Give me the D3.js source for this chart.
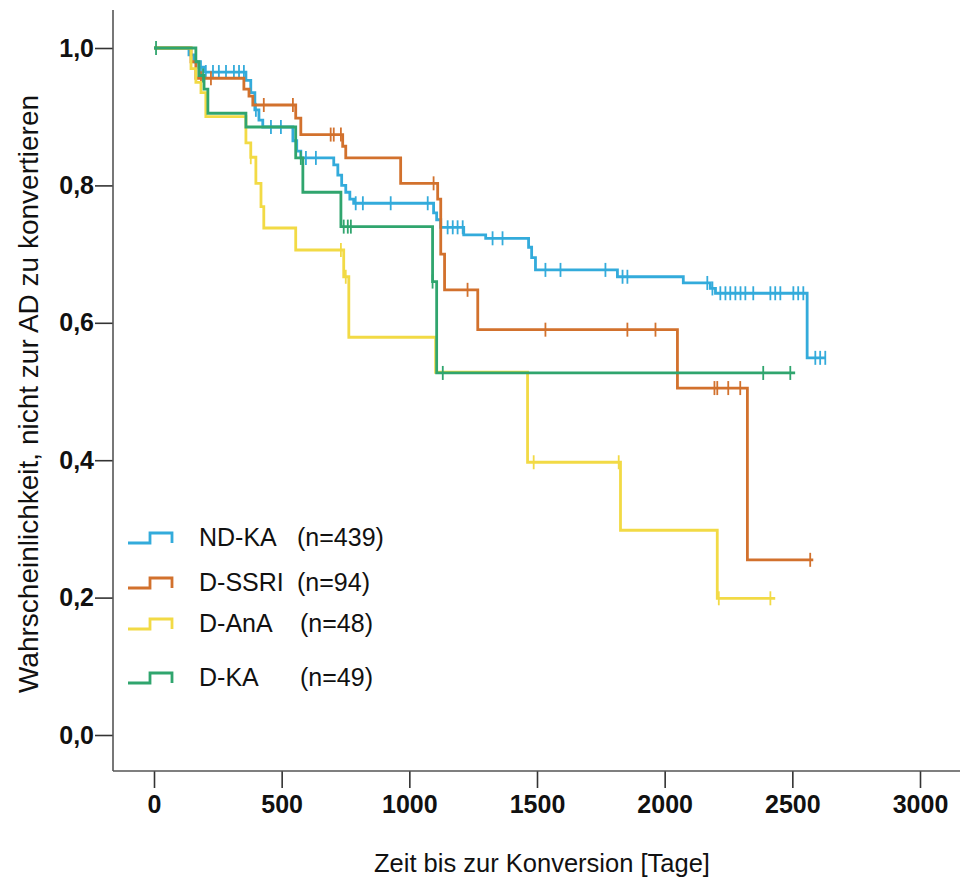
<!DOCTYPE html>
<html>
<head>
<meta charset="utf-8">
<script src="https://cdn.jsdelivr.net/npm/d3@7"></script>
<style>
  body { margin: 0; background: #fff; }
  svg { display: block; }
</style>
</head>
<body>
<svg id="chart" width="960" height="881"></svg>
<script>
// Kaplan-Meier steps: [day, survival after the event]
const ndkaSteps = [
  [137, 0.99], [156, 0.98], [176, 0.972], [196, 0.965],
  [360, 0.953], [379, 0.935], [395, 0.91], [411, 0.895], [426, 0.885],
  [544, 0.865], [559, 0.85], [575, 0.84],
  [704, 0.83], [720, 0.815], [735, 0.80], [751, 0.79], [767, 0.78], [782, 0.774],
  [1095, 0.76], [1107, 0.75], [1123, 0.739], [1213, 0.728], [1299, 0.723],
  [1467, 0.71], [1479, 0.695], [1494, 0.677], [1815, 0.667], [2073, 0.658],
  [2179, 0.65], [2199, 0.643], [2558, 0.549]
]
const ndkaCensored = [145, 164, 184, 203, 231, 254, 282, 313, 333, 352, 399, 458, 497, 595, 634,
  790, 818, 927, 1072, 1150, 1170, 1189, 1209, 1326, 1365, 1533, 1592, 1768, 1835, 1854,
  2167, 2187, 2218, 2238, 2257, 2277, 2297, 2316, 2347, 2414, 2433, 2453, 2504, 2523, 2543,
  2590, 2609, 2629]
const ndkaEnd = 2629

const ssriSteps = [
  [145, 0.98], [164, 0.956], [352, 0.94], [372, 0.93], [387, 0.917],
  [555, 0.898], [575, 0.874], [739, 0.857], [751, 0.84], [966, 0.803],
  [1111, 0.78], [1123, 0.70], [1138, 0.648], [1268, 0.59], [2050, 0.505], [2324, 0.255]
]
const ssriCensored = [184, 223, 430, 544, 692, 704, 732, 1095, 1228, 1533, 1854, 1964, 2195, 2206, 2249, 2296, 2570]
const ssriEnd = 2582

const anaSteps = [
  [145, 0.97], [164, 0.95], [184, 0.935], [203, 0.90],
  [360, 0.862], [379, 0.841], [399, 0.803], [419, 0.769], [430, 0.738],
  [555, 0.706], [743, 0.667], [763, 0.579], [1103, 0.528],
  [1463, 0.397], [1827, 0.298], [2206, 0.199]
]
const anaCensored = [379, 732, 751, 1487, 1820, 2212, 2414]
const anaEnd = 2433

const kaSteps = [
  [164, 0.98], [176, 0.96], [196, 0.94], [211, 0.905], [360, 0.885],
  [555, 0.84], [583, 0.79], [732, 0.74], [1091, 0.66], [1107, 0.527]
]
const kaCensored = [8, 192, 575, 743, 759, 771, 1091, 1131, 2386, 2492]
const kaEnd = 2511

const groupNames = ['ND-KA', 'D-SSRI', 'D-AnA', 'D-KA']
const groupCounts = ['(n=439)', '(n=94)', '(n=48)', '(n=49)']
const groupColors = ['#33abdb', '#d2712d', '#f2da45', '#30a56e']

const xTicks = [0, 500, 1000, 1500, 2000, 2500, 3000]
const yTicks = [0, 0.2, 0.4, 0.6, 0.8, 1.0]

const groups = [
  {steps: ndkaSteps, censored: ndkaCensored, end: ndkaEnd},
  {steps: ssriSteps, censored: ssriCensored, end: ssriEnd},
  {steps: anaSteps, censored: anaCensored, end: anaEnd},
  {steps: kaSteps, censored: kaCensored, end: kaEnd}
]

const svg = d3.select('#chart')

let x = d3.scaleLinear().domain([0, 3000]).range([154, 920])
let y = d3.scaleLinear().domain([0, 1]).range([735, 48])

const axisX = 113, axisY = 771
const fmt = d => d3.format('.1f')(d).replace('.', ',')

// axes
let yAxis = svg.append('g')
  .attr('transform', `translate(${axisX},0)`)
  .call(d3.axisLeft(y).tickValues(yTicks).tickFormat(fmt).tickSize(18).tickPadding(1).tickSizeOuter(0))
yAxis.select('.domain').remove()

let xAxis = svg.append('g')
  .attr('transform', `translate(0,${axisY})`)
  .call(d3.axisBottom(x).tickValues(xTicks).tickFormat(d3.format('d')).tickSize(17).tickPadding(7).tickSizeOuter(0))
xAxis.select('.domain').remove()

svg.selectAll('.tick line').attr('stroke', '#333').attr('stroke-width', 1.6)
svg.selectAll('.tick text')
  .attr('fill', '#111')
  .style('font-family', '"Liberation Sans", Arial, sans-serif')
  .style('font-weight', 'bold')
  .style('font-size', '25px')

svg.append('line').attr('x1', axisX).attr('x2', axisX).attr('y1', 10).attr('y2', axisY)
  .attr('stroke', '#555').attr('stroke-width', 1.6)
svg.append('line').attr('x1', axisX).attr('x2', 960).attr('y1', axisY).attr('y2', axisY)
  .attr('stroke', '#555').attr('stroke-width', 1.6)

// axis titles
svg.append('text')
  .attr('x', 542).attr('y', 872)
  .attr('text-anchor', 'middle')
  .style('font-family', '"Liberation Sans", Arial, sans-serif')
  .style('font-size', '25.5px')
  .attr('fill', '#111')
  .text('Zeit bis zur Konversion [Tage]')

svg.append('text')
  .attr('transform', 'translate(38,394) rotate(-90)')
  .attr('text-anchor', 'middle')
  .style('font-family', '"Liberation Sans", Arial, sans-serif')
  .style('font-size', '28px')
  .attr('fill', '#111')
  .text('Wahrscheinlichkeit, nicht zur AD zu konvertieren')

// survival at time t (step function)
function survAt(steps, t) {
  let s = 1
  steps.forEach(d => { if (d[0] <= t) s = d[1] })
  return s
}

let line = d3.line()
  .x(d => x(d[0]))
  .y(d => y(d[1]))
  .curve(d3.curveStepAfter)

let curves = svg.append('g')
groups.forEach((g, i) => {
  let pts = [[0, 1]].concat(g.steps)
  pts.push([g.end, g.steps[g.steps.length - 1][1]])

  let grp = curves.append('g')
  grp.append('path')
    .datum(pts)
    .attr('d', line)
    .attr('fill', 'none')
    .attr('stroke', groupColors[i])
    .attr('stroke-width', 2.8)

  grp.selectAll('line.cens')
    .data(g.censored)
    .join('line')
    .attr('class', 'cens')
    .attr('x1', d => x(d)).attr('x2', d => x(d))
    .attr('y1', d => y(survAt(g.steps, d)) - 7)
    .attr('y2', d => y(survAt(g.steps, d)) + 7)
    .attr('stroke', groupColors[i])
    .attr('stroke-width', 1.8)
})

// legend
const legendRows = [537, 582, 623, 677]
const countX = [297, 297, 300, 300]
let legend = svg.append('g')
groupNames.forEach((name, i) => {
  let cy = legendRows[i]
  legend.append('path')
    .attr('d', `M128,${cy + 6}H150V${cy - 4}H172V${cy + 6}`)
    .attr('fill', 'none')
    .attr('stroke', groupColors[i])
    .attr('stroke-width', 2.8)
  legend.append('text')
    .attr('x', 199).attr('y', cy + 9)
    .style('font-family', '"Liberation Sans", Arial, sans-serif')
    .style('font-size', '25px')
    .attr('fill', '#111')
    .text(name)
  legend.append('text')
    .attr('x', countX[i]).attr('y', cy + 9)
    .style('font-family', '"Liberation Sans", Arial, sans-serif')
    .style('font-size', '25px')
    .attr('fill', '#111')
    .text(groupCounts[i])
})
</script>
</body>
</html>
